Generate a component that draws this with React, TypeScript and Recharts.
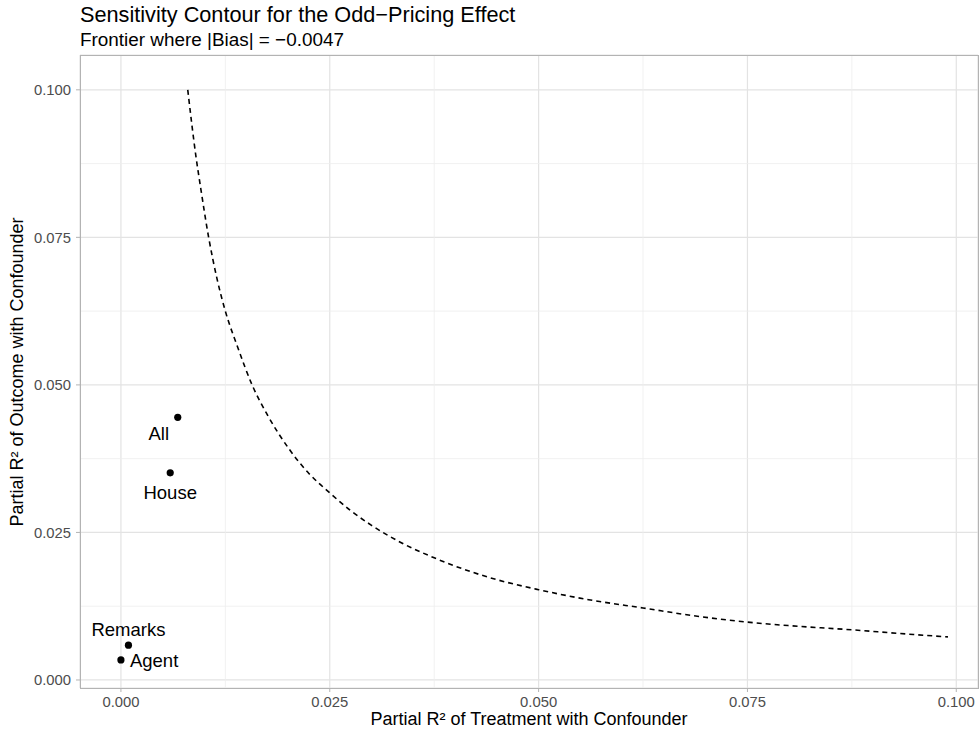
import { ComposedChart, Line, Scatter, XAxis, YAxis, CartesianGrid, ReferenceLine } from 'recharts';

// frontier curve
const curveX = [0.008, 0.0085, 0.009, 0.0095, 0.0105, 0.0115, 0.0125, 0.014, 0.0157, 0.0175, 0.0202, 0.0225, 0.025, 0.0275, 0.03, 0.0335, 0.0375, 0.042, 0.045, 0.05, 0.056, 0.0625, 0.069, 0.075, 0.081, 0.0875, 0.093, 0.099];
const curveY = [0.1, 0.094, 0.0885, 0.0838, 0.075, 0.068, 0.0625, 0.0563, 0.05, 0.045, 0.039, 0.035, 0.0317, 0.0287, 0.0262, 0.0233, 0.0207, 0.0183, 0.017, 0.0153, 0.0136, 0.0122, 0.0108, 0.0098, 0.0091, 0.0085, 0.0079, 0.0073];

// benchmark covariates
const pointLabels = ['All', 'House', 'Remarks', 'Agent'];
const pointX = [0.0068, 0.0059, 0.0009, 0.0];
const pointY = [0.0445, 0.0351, 0.0059, 0.0034];

const xTicks = [0, 0.025, 0.05, 0.075, 0.1];
const yTicks = [0, 0.025, 0.05, 0.075, 0.1];
const minorTicks = [0.0125, 0.0375, 0.0625, 0.0875];

const curve = curveX.map((x, i) => ({ x, y: curveY[i] }));
const points = pointLabels.map((label, i) => ({ label, x: pointX[i], y: pointY[i] }));

const FONT = '"Liberation Sans", Arial, Helvetica, sans-serif';

// where each label sits relative to its point
const labelPos: Record<string, { dx: number; dy: number; anchor: 'start' | 'middle' | 'end' }> = {
  All: { dx: -19, dy: 16, anchor: 'middle' },
  House: { dx: 0, dy: 20, anchor: 'middle' },
  Remarks: { dx: 0, dy: -16, anchor: 'middle' },
  Agent: { dx: 9, dy: 1, anchor: 'start' },
};

function PointShape(props: any) {
  const { cx, cy, payload } = props;
  const p = labelPos[payload.label];
  return (
    <g>
      <circle cx={cx} cy={cy} r={3.6} fill="#000" />
      <text
        x={cx + p.dx}
        y={cy + p.dy}
        textAnchor={p.anchor}
        dominantBaseline="central"
        fontSize={18.5}
        fontFamily={FONT}
        fill="#000"
      >
        {payload.label}
      </text>
    </g>
  );
}

export default function App() {
  const tickStyle = { fill: '#4D4D4D', fontSize: 14.8, fontFamily: FONT };
  return (
    <div style={{ position: 'absolute', left: 0, top: 0, width: 979, height: 736, background: '#fff', fontFamily: FONT }}>
      <div style={{ position: 'absolute', left: 80, top: 2, fontSize: 21.7, color: '#000', whiteSpace: 'nowrap' }}>
        Sensitivity Contour for the Odd−Pricing Effect
      </div>
      <div style={{ position: 'absolute', left: 80, top: 29, fontSize: 18.9, color: '#000', whiteSpace: 'nowrap' }}>
        Frontier where |Bias| = −0.0047
      </div>

      <ComposedChart width={979} height={736} margin={{ top: 55, right: 1, bottom: 0, left: 0 }}>
        <CartesianGrid stroke="#E3E3E3" strokeWidth={1.2} />
        {minorTicks.map((v) => (
          <ReferenceLine key={'mx' + v} x={v} stroke="#EDEDED" strokeWidth={0.8} />
        ))}
        {minorTicks.map((v) => (
          <ReferenceLine key={'my' + v} y={v} stroke="#EDEDED" strokeWidth={0.8} />
        ))}
        <XAxis
          type="number"
          dataKey="x"
          domain={[-0.0049, 0.1026]}
          allowDataOverflow
          ticks={xTicks}
          tickFormatter={(v: number) => v.toFixed(3)}
          tick={tickStyle}
          tickLine={{ stroke: '#B3B3B3' }}
          tickSize={4}
          tickMargin={4}
          axisLine={false}
          height={48}
        />
        <YAxis
          type="number"
          domain={[-0.00136, 0.1059]}
          allowDataOverflow
          ticks={yTicks}
          tickFormatter={(v: number) => v.toFixed(3)}
          tick={tickStyle}
          tickLine={{ stroke: '#B3B3B3' }}
          tickSize={4}
          tickMargin={5}
          axisLine={false}
          width={80}
        />
        <Line
          data={curve}
          dataKey="y"
          type="monotone"
          stroke="#000"
          strokeWidth={1.6}
          strokeDasharray="5 4"
          dot={false}
          activeDot={false}
          isAnimationActive={false}
        />
        <Scatter data={points} dataKey="y" shape={PointShape} isAnimationActive={false} />
      </ComposedChart>

      <div style={{ position: 'absolute', left: 80, top: 55, width: 897, height: 632, border: '1px solid #B3B3B3', pointerEvents: 'none' }} />

      <div style={{ position: 'absolute', left: 80, width: 898, top: 709, textAlign: 'center', fontSize: 18, color: '#000', whiteSpace: 'nowrap' }}>
        Partial R² of Treatment with Confounder
      </div>
      <div
        style={{
          position: 'absolute',
          left: 17,
          top: 372,
          transform: 'translate(-50%, -50%) rotate(-90deg)',
          fontSize: 18,
          color: '#000',
          whiteSpace: 'nowrap',
        }}
      >
        Partial R² of Outcome with Confounder
      </div>
    </div>
  );
}
